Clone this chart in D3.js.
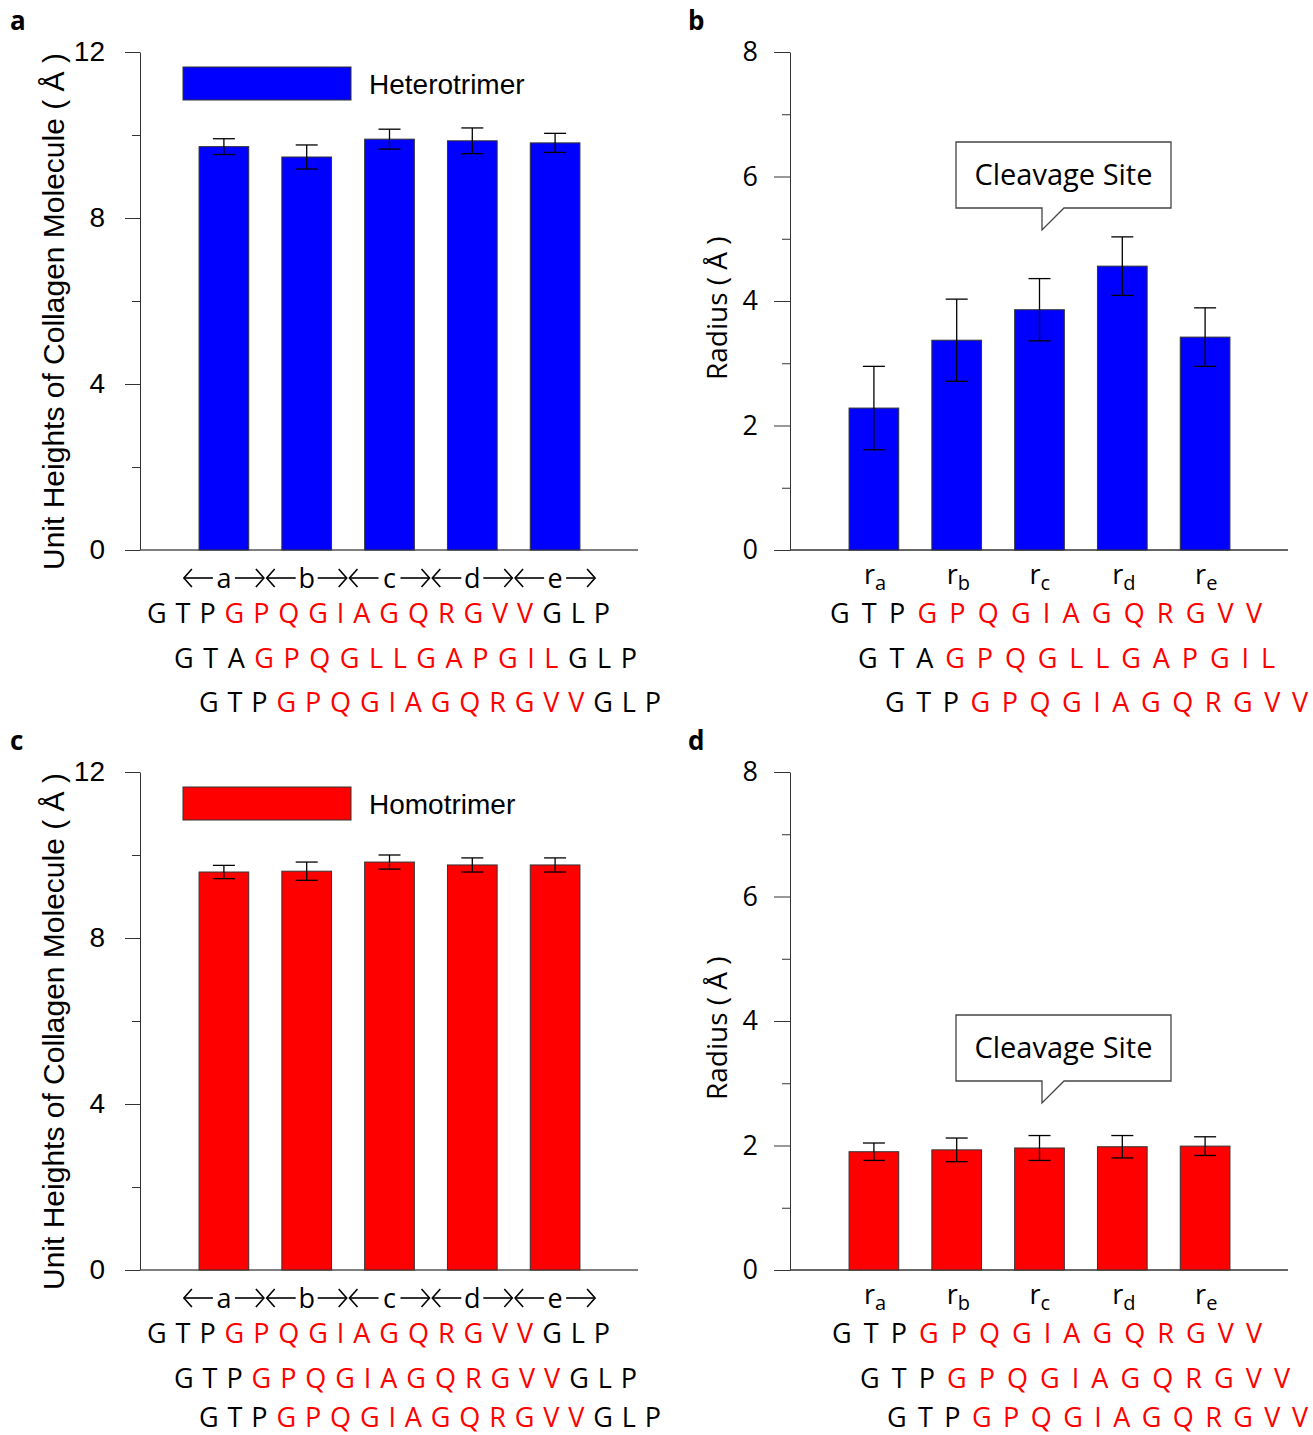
<!DOCTYPE html>
<html><head><meta charset="utf-8">
<script src="https://cdn.jsdelivr.net/npm/d3@7"></script>
<style>body{margin:0;background:#fff}</style>
</head><body>
<svg id="chart" width="1313" height="1435"></svg>
<script>
// ---------- data ----------
const categories = ["a", "b", "c", "d", "e"];
const radiusLabels = ["a", "b", "c", "d", "e"]; // subscripts of r
const heteroHeight = [9.72, 9.47, 9.90, 9.86, 9.81];
const heteroHeightErr = [0.19, 0.29, 0.24, 0.31, 0.23];
const heteroRadius = [2.28, 3.37, 3.86, 4.56, 3.42];
const heteroRadiusErr = [0.67, 0.66, 0.50, 0.47, 0.47];
const homoHeight = [9.59, 9.61, 9.83, 9.76, 9.76];
const homoHeightErr = [0.16, 0.22, 0.17, 0.17, 0.17];
const homoRadius = [1.90, 1.93, 1.96, 1.98, 1.99];
const homoRadiusErr = [0.14, 0.19, 0.20, 0.18, 0.15];
const heightTicks = [0, 4, 8, 12];
const heightMinorTicks = [2, 6, 10];
const radiusTicks = [0, 2, 4, 6, 8];
const radiusMinorTicks = [1, 3, 5, 7];
const legendHetero = "Heterotrimer";
const legendHomo = "Homotrimer";
const calloutText = "Cleavage Site";
const heightTitle = "Unit Heights of Collagen Molecule ( Å )";
const radiusTitle = "Radius ( Å )";
// sequences: [text, colour key]
const seqRow1 = [["G T P", "k"], ["G P Q G I A G Q R G V V", "r"], ["G L P", "k"]];
const seqRow2Hetero = [["G T A", "k"], ["G P Q G L L G A P G I L", "r"], ["G L P", "k"]];
const seqRow1Short = [["G T P", "k"], ["G P Q G I A G Q R G V V", "r"]];
const seqRow2HeteroShort = [["G T A", "k"], ["G P Q G L L G A P G I L", "r"]];

const BLUE = "#0000FF", RED = "#FF0000";
const svg = d3.select("#chart");

function heightPanel(oy, values, errs, color, legendText, letter) {
  const g = svg.append("g");
  const y = d3.scaleLinear().domain([0, 12]).range([550 + oy, 52 + oy]);
  const x = d3.scaleBand().domain(categories).range([182.5, 596.5]).paddingInner(0.4).paddingOuter(0.2);
  g.append("g").attr("transform", "translate(140,0)")
    .call(d3.axisLeft(y).tickValues(heightMinorTicks).tickSize(8).tickFormat(""))
    .call(a => a.select(".domain").remove())
    .selectAll("line").attr("stroke", "#333");
  const ax = g.append("g").attr("transform", "translate(140,0)")
    .call(d3.axisLeft(y).tickValues(heightTicks).tickSize(15).tickSizeOuter(0).tickPadding(20));
  ax.select(".domain").attr("stroke", "#333");
  ax.selectAll("line").attr("stroke", "#333");
  ax.selectAll("text").attr("font-family", "Liberation Sans, Arial, sans-serif").attr("font-size", 28).attr("fill", "#000");
  g.append("line").attr("x1", 140).attr("x2", 638).attr("y1", y(0)).attr("y2", y(0)).attr("stroke", "#555").attr("stroke-width", 1.5);
  g.selectAll("rect.bar").data(categories).join("rect").attr("class", "bar")
    .attr("x", d => x(d)).attr("width", x.bandwidth())
    .attr("y", (d, i) => y(values[i])).attr("height", (d, i) => y(0) - y(values[i]))
    .attr("fill", color).attr("stroke", "#333").attr("stroke-width", 1);
  errorBars(g, x, y, values, errs);
  g.append("rect").attr("x", 183).attr("y", 67 + oy).attr("width", 168).attr("height", 33)
    .attr("fill", color).attr("stroke", "#333");
  g.append("text").attr("x", 369).attr("y", 94 + oy).text(legendText)
    .attr("font-family", "Liberation Sans, Arial, sans-serif").attr("font-size", 28);
  g.append("text").attr("transform", `translate(64,${570 + oy}) rotate(-90)`).text(heightTitle)
    .attr("font-family", "Liberation Sans, Arial, sans-serif").attr("font-size", 30);
  const cy = 578 + oy;
  categories.forEach(c => {
    const cx = x(c) + x.bandwidth() / 2;
    g.append("text").attr("x", cx).attr("y", cy + 10).attr("text-anchor", "middle").text(c)
      .attr("font-family", "Open Sans, sans-serif").attr("font-size", 27);
    const ar = g.append("g").attr("stroke", "#000").attr("stroke-width", 1.6).attr("fill", "none");
    ar.append("line").attr("x1", cx - 40).attr("x2", cx - 11).attr("y1", cy).attr("y2", cy);
    ar.append("path").attr("d", `M${cx - 32},${cy - 9} L${cx - 40},${cy} L${cx - 32},${cy + 9}`);
    ar.append("line").attr("x1", cx + 11).attr("x2", cx + 40).attr("y1", cy).attr("y2", cy);
    ar.append("path").attr("d", `M${cx + 32},${cy - 9} L${cx + 40},${cy} L${cx + 32},${cy + 9}`);
  });
  panelLetter(10, 30 + oy, letter);
}

function radiusPanel(oy, values, errs, color, letter, calloutTop) {
  const g = svg.append("g");
  const y = d3.scaleLinear().domain([0, 8]).range([550 + oy, 52 + oy]);
  const x = d3.scaleBand().domain(categories).range([832.5, 1246.5]).paddingInner(0.4).paddingOuter(0.2);
  g.append("g").attr("transform", "translate(790,0)")
    .call(d3.axisLeft(y).tickValues(radiusMinorTicks).tickSize(8).tickFormat(""))
    .call(a => a.select(".domain").remove())
    .selectAll("line").attr("stroke", "#333");
  const ax = g.append("g").attr("transform", "translate(790,0)")
    .call(d3.axisLeft(y).tickValues(radiusTicks).tickSize(16).tickSizeOuter(0).tickPadding(16));
  ax.select(".domain").attr("stroke", "#333");
  ax.selectAll("line").attr("stroke", "#333");
  ax.selectAll("text").attr("font-family", "Open Sans, sans-serif").attr("font-size", 27).attr("fill", "#000");
  g.append("line").attr("x1", 790).attr("x2", 1288).attr("y1", y(0)).attr("y2", y(0)).attr("stroke", "#333").attr("stroke-width", 1.5);
  g.selectAll("rect.bar").data(categories).join("rect").attr("class", "bar")
    .attr("x", d => x(d)).attr("width", x.bandwidth())
    .attr("y", (d, i) => y(values[i])).attr("height", (d, i) => y(0) - y(values[i]))
    .attr("fill", color).attr("stroke", "#333").attr("stroke-width", 1);
  errorBars(g, x, y, values, errs);
  categories.forEach((c, i) => {
    const cx = x(c) + x.bandwidth() / 2;
    const t = g.append("text").attr("x", cx - 10).attr("y", 584 + oy)
      .attr("font-family", "Open Sans, sans-serif").attr("font-size", 27);
    t.append("tspan").text("r");
    t.append("tspan").attr("dy", 6).attr("font-size", 20).text(radiusLabels[i]);
  });
  const top = calloutTop, bot = calloutTop + 66, l = 956, r = 1171, px = 1042;
  g.append("path").attr("d",
    `M${l},${top} H${r} V${bot} H${px + 22} L${px},${bot + 22} V${bot} H${l} Z`)
    .attr("fill", "#fff").attr("stroke", "#444").attr("stroke-width", 1.3);
  g.append("text").attr("x", (l + r) / 2).attr("y", top + 43).attr("text-anchor", "middle").text(calloutText)
    .attr("font-family", "Open Sans, sans-serif").attr("font-size", 29);
  g.append("text").attr("transform", `translate(727,${380 + oy}) rotate(-90)`).text(radiusTitle)
    .attr("font-family", "Open Sans, sans-serif").attr("font-size", 28);
  panelLetter(688, 30 + oy, letter);
}

function errorBars(g, x, y, values, errs) {
  const e = g.append("g").attr("stroke", "#000").attr("stroke-width", 1.3);
  categories.forEach((c, i) => {
    const cx = x(c) + x.bandwidth() / 2;
    const y1 = y(values[i] + errs[i]), y2 = y(values[i] - errs[i]);
    e.append("line").attr("x1", cx).attr("x2", cx).attr("y1", y1).attr("y2", y2);
    e.append("line").attr("x1", cx - 11).attr("x2", cx + 11).attr("y1", y1).attr("y2", y1);
    e.append("line").attr("x1", cx - 11).attr("x2", cx + 11).attr("y1", y2).attr("y2", y2);
  });
}

function panelLetter(x, y, t) {
  svg.append("text").attr("x", x).attr("y", y).text(t)
    .attr("font-family", "Open Sans, sans-serif").attr("font-weight", "bold").attr("font-size", 26);
}

function seqRow(x0, yb, width, segs) {
  const t = svg.append("text").attr("x", x0).attr("y", yb)
    .attr("font-family", "Open Sans, sans-serif").attr("font-size", 27)
    .attr("textLength", width).attr("lengthAdjust", "spacing");
  segs.forEach((s, i) => {
    t.append("tspan").attr("fill", s[1] === "r" ? RED : "#000").text((i ? " " : "") + s[0]);
  });
}

heightPanel(0, heteroHeight, heteroHeightErr, BLUE, legendHetero, "a");
radiusPanel(0, heteroRadius, heteroRadiusErr, BLUE, "b", 142);
heightPanel(720, homoHeight, homoHeightErr, RED, legendHomo, "c");
radiusPanel(720, homoRadius, homoRadiusErr, RED, "d", 1015);

seqRow(147, 623, 463, seqRow1);
seqRow(174, 668, 463, seqRow2Hetero);
seqRow(199, 712, 462, seqRow1);
seqRow(830, 623, 432, seqRow1Short);
seqRow(858, 668, 417, seqRow2HeteroShort);
seqRow(885, 712, 423, seqRow1Short);
seqRow(147, 1343, 463, seqRow1);
seqRow(174, 1388, 463, seqRow1);
seqRow(199, 1427, 462, seqRow1);
seqRow(832, 1343, 430, seqRow1Short);
seqRow(860, 1388, 430, seqRow1Short);
seqRow(887, 1427, 421, seqRow1Short);
</script>
</body></html>
